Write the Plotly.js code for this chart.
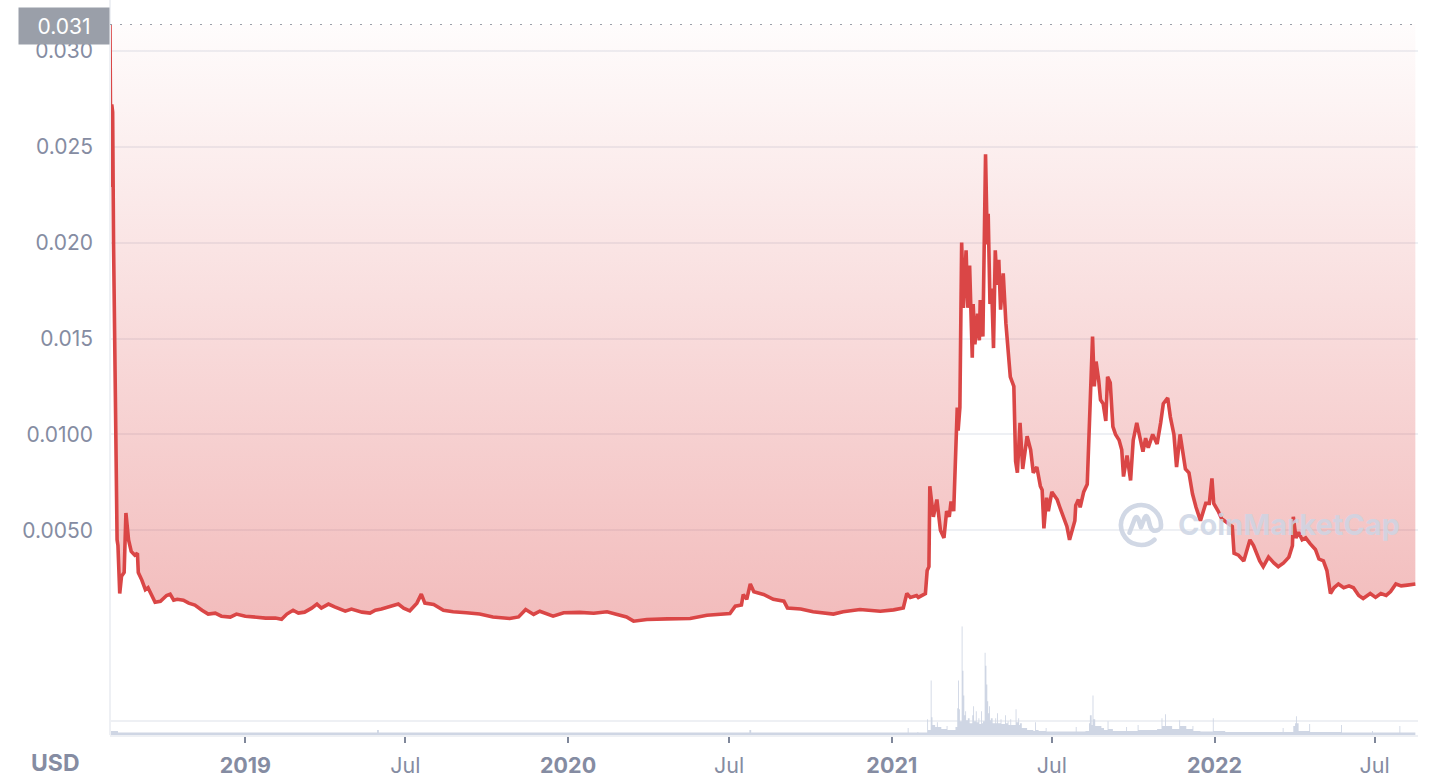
<!DOCTYPE html>
<html>
<head>
<meta charset="utf-8">
<script src="https://cdn.plot.ly/plotly-3.0.1.min.js"></script>
<style>
  html, body { margin: 0; padding: 0; background: #ffffff; }
  #chart { width: 1440px; height: 778px; }
</style>
</head>
<body>
<div id="chart"></div>
<script>
// ---------------- DATA ----------------
const priceDates = [
  '2018-08-01','2018-08-02','2018-08-03','2018-08-04','2018-08-05','2018-08-06','2018-08-07','2018-08-08','2018-08-09','2018-08-10',
  '2018-08-12','2018-08-14','2018-08-17','2018-08-19','2018-08-22','2018-08-25','2018-08-29','2018-09-01','2018-09-02','2018-09-06',
  '2018-09-10','2018-09-13','2018-09-17','2018-09-21','2018-09-27','2018-10-01','2018-10-04','2018-10-08','2018-10-12','2018-10-16',
  '2018-10-23','2018-10-29','2018-11-05','2018-11-13','2018-11-20','2018-11-28','2018-12-05','2018-12-15','2018-12-22','2019-01-01',
  '2019-01-12','2019-01-24','2019-02-04','2019-02-11','2019-02-17','2019-02-24','2019-03-02','2019-03-09','2019-03-17','2019-03-23',
  '2019-03-28','2019-04-05','2019-04-12','2019-04-24','2019-05-01','2019-05-13','2019-05-22','2019-05-28','2019-06-04','2019-06-14',
  '2019-06-23','2019-06-29','2019-07-06','2019-07-14','2019-07-19','2019-07-23','2019-08-02','2019-08-13','2019-08-24','2019-09-08',
  '2019-09-23','2019-10-08','2019-10-27','2019-11-06','2019-11-14','2019-11-23','2019-11-30','2019-12-15','2019-12-27','2020-01-14',
  '2020-01-30','2020-02-14','2020-02-25','2020-03-07','2020-03-15','2020-03-30','2020-04-22','2020-05-18','2020-06-06','2020-06-21',
  '2020-07-02','2020-07-08','2020-07-15','2020-07-17','2020-07-21','2020-07-25','2020-07-29','2020-08-09','2020-08-20','2020-09-01',
  '2020-09-05','2020-09-20','2020-10-04','2020-10-27','2020-11-07','2020-11-26','2020-12-19','2021-01-03','2021-01-14','2021-01-18',
  '2021-01-22','2021-01-29','2021-01-31','2021-02-08','2021-02-10','2021-02-12','2021-02-13','2021-02-17','2021-02-21','2021-02-25',
  '2021-03-01','2021-03-04','2021-03-07','2021-03-09','2021-03-12','2021-03-16','2021-03-17','2021-03-19','2021-03-21','2021-03-23',
  '2021-03-26','2021-03-28','2021-03-30','2021-04-02','2021-04-03','2021-04-05','2021-04-08','2021-04-10','2021-04-11','2021-04-14',
  '2021-04-17','2021-04-19','2021-04-20','2021-04-22','2021-04-24','2021-04-26','2021-04-28','2021-04-30','2021-05-02','2021-05-04',
  '2021-05-07','2021-05-10','2021-05-13','2021-05-15','2021-05-19','2021-05-21','2021-05-23','2021-05-26','2021-05-29','2021-06-03',
  '2021-06-07','2021-06-10','2021-06-14','2021-06-18','2021-06-20','2021-06-22','2021-06-25','2021-06-27','2021-07-01','2021-07-07',
  '2021-07-10','2021-07-14','2021-07-18','2021-07-21','2021-07-24','2021-07-27','2021-07-28','2021-07-31','2021-08-02','2021-08-06',
  '2021-08-10','2021-08-12','2021-08-14','2021-08-16','2021-08-18','2021-08-20','2021-08-23','2021-08-25','2021-08-28','2021-08-31',
  '2021-09-02','2021-09-05','2021-09-08','2021-09-11','2021-09-15','2021-09-18','2021-09-20','2021-09-24','2021-09-28','2021-10-01',
  '2021-10-05','2021-10-09','2021-10-12','2021-10-15','2021-10-18','2021-10-23','2021-10-28','2021-11-01','2021-11-04','2021-11-09',
  '2021-11-12','2021-11-16','2021-11-19','2021-11-23','2021-11-26','2021-11-29','2021-12-03','2021-12-07','2021-12-11','2021-12-16',
  '2021-12-22','2021-12-26','2021-12-29','2021-12-31','2022-01-05','2022-01-09','2022-01-15','2022-01-21','2022-01-23','2022-01-28',
  '2022-02-03','2022-02-07','2022-02-10','2022-02-14','2022-02-17','2022-02-21','2022-02-25','2022-03-03','2022-03-09','2022-03-14',
  '2022-03-20','2022-03-26','2022-03-30','2022-03-31','2022-04-03','2022-04-06','2022-04-10','2022-04-14','2022-04-19','2022-04-25',
  '2022-04-29','2022-05-04','2022-05-08','2022-05-12','2022-05-16','2022-05-21','2022-05-27','2022-06-02','2022-06-07','2022-06-13',
  '2022-06-18','2022-06-26','2022-07-02','2022-07-08','2022-07-14','2022-07-19','2022-07-25','2022-07-31','2022-08-07','2022-08-16'
];
const priceValues = [
  0.0314,0.0229,0.0272,0.0268,0.0200,0.0150,0.0110,0.0080,0.0045,0.0042,
  0.0017,0.0026,0.0028,0.0059,0.0045,0.0039,0.0037,0.0038,0.0028,0.0024,
  0.0019,0.0020,0.0016,0.00125,0.0013,0.00146,0.0016,0.00167,0.00135,0.0014,
  0.00135,0.0012,0.0011,0.00083,0.00063,0.00068,0.00052,0.00047,0.00063,0.00052,
  0.00047,0.00042,0.00042,0.00036,0.00063,0.00083,0.00068,0.00073,0.00094,0.00115,
  0.00094,0.00115,0.0010,0.00078,0.00089,0.00073,0.00068,0.00083,0.00089,0.00104,
  0.00115,0.00094,0.0008,0.0012,0.00167,0.0012,0.00113,0.00083,0.00075,0.0007,
  0.00063,0.00048,0.0004,0.00048,0.00087,0.00061,0.00078,0.00052,0.0007,0.00072,
  0.00067,0.00075,0.00061,0.00048,0.00026,0.00035,0.00038,0.0004,0.00057,0.00063,
  0.00066,0.00104,0.0011,0.00165,0.0014,0.0022,0.0018,0.00165,0.0014,0.0013,
  0.00095,0.00089,0.00075,0.00063,0.00075,0.00087,0.00078,0.00085,0.00095,0.0017,
  0.0015,0.0016,0.0015,0.0017,0.0029,0.0031,0.0073,0.0057,0.0066,0.0050,
  0.0046,0.0060,0.0057,0.0065,0.0060,0.0114,0.0102,0.0114,0.0200,0.0166,
  0.0196,0.0166,0.0188,0.0140,0.0168,0.0147,0.0163,0.0149,0.0170,0.0151,
  0.0246,0.0199,0.0215,0.0168,0.0176,0.0145,0.0196,0.0178,0.0191,0.0165,
  0.0184,0.0158,0.0144,0.0130,0.0125,0.0086,0.0080,0.0106,0.0082,0.0099,
  0.0092,0.0080,0.0083,0.0073,0.0071,0.0051,0.0067,0.0060,0.0070,0.0066,
  0.0062,0.0057,0.0052,0.0045,0.0051,0.0055,0.0063,0.0066,0.0062,0.0070,
  0.0074,0.0097,0.0118,0.0151,0.0125,0.0138,0.0128,0.0118,0.0116,0.0107,
  0.0130,0.0127,0.0104,0.0100,0.0097,0.0092,0.0078,0.0089,0.0076,0.0097,
  0.0106,0.0097,0.0091,0.0098,0.0093,0.0100,0.0095,0.0106,0.0116,0.0119,
  0.0109,0.0100,0.0083,0.0100,0.0092,0.0082,0.0080,0.0069,0.0062,0.0055,
  0.0064,0.0064,0.0077,0.0064,0.0060,0.0056,0.0054,0.0052,0.0038,0.0037,
  0.0034,0.0040,0.0045,0.0042,0.0038,0.0034,0.0031,0.0036,0.0033,0.0031,
  0.0033,0.0036,0.0042,0.0057,0.0046,0.0049,0.0045,0.0046,0.0043,0.0040,
  0.0035,0.0034,0.0029,0.0017,0.0020,0.0022,0.0020,0.0021,0.0020,0.0016,
  0.00144,0.0017,0.0015,0.0017,0.0016,0.0018,0.0022,0.0021,0.00214,0.0022
];

// Volume (relative units)
const volumeDates = [
  '2018-08-01','2018-08-10','2018-09-01','2019-05-30','2019-06-01','2020-07-24','2020-07-26','2021-01-10','2021-01-19','2021-01-20',
  '2021-01-30','2021-01-31','2021-02-10','2021-02-11','2021-02-14','2021-02-15','2021-02-16','2021-02-19','2021-02-21','2021-02-22',
  '2021-02-26','2021-03-04','2021-03-05','2021-03-10','2021-03-14','2021-03-16','2021-03-17','2021-03-18','2021-03-19','2021-03-21',
  '2021-03-22','2021-03-23','2021-03-24','2021-03-25','2021-03-26','2021-03-28','2021-03-30','2021-04-02','2021-04-03','2021-04-04',
  '2021-04-06','2021-04-07','2021-04-09','2021-04-10','2021-04-12','2021-04-13','2021-04-14','2021-04-16','2021-04-17','2021-04-18',
  '2021-04-19','2021-04-20','2021-04-21','2021-04-22','2021-04-23','2021-04-25','2021-04-28','2021-04-29','2021-04-30','2021-05-01',
  '2021-05-04','2021-05-05','2021-05-09','2021-05-10','2021-05-12','2021-05-13','2021-05-15','2021-05-16','2021-05-21','2021-05-22',
  '2021-05-24','2021-05-25','2021-05-26','2021-05-28','2021-06-01','2021-06-03','2021-06-07','2021-06-10','2021-06-12','2021-06-13',
  '2021-06-16','2021-06-24','2021-06-25','2021-07-10','2021-07-28','2021-07-29','2021-08-08','2021-08-12','2021-08-13','2021-08-15',
  '2021-08-16','2021-08-17','2021-08-18','2021-08-19','2021-08-26','2021-08-29','2021-09-02','2021-09-03','2021-09-08','2021-09-23',
  '2021-09-24','2021-10-06','2021-10-07','2021-10-20','2021-10-28','2021-11-02','2021-11-03','2021-11-06','2021-11-07','2021-11-14',
  '2021-11-22','2021-11-23','2021-11-30','2021-12-07','2021-12-08','2021-12-16','2021-12-30','2021-12-31','2022-01-13','2022-02-10',
  '2022-03-19','2022-03-20','2022-03-31','2022-04-02','2022-04-03','2022-04-04','2022-04-06','2022-04-18','2022-04-19','2022-05-24',
  '2022-05-25','2022-06-28','2022-06-29','2022-07-29','2022-07-30','2022-08-16'
];
const volumeValues = [
  4,2.5,2.5,5,2.5,5,2.5,2.5,7,2.5,
  3,2.5,16,5,55,18,10,8,13,8,
  6,9,5,5,8,27,55,26,14,110,
  65,40,20,24,15,17,12,20,29,14,
  24,13,17,11,24,12,14,83,70,51,
  34,22,29,15,17,12,17,12,22,12,
  16,11,20,12,14,10,16,10,26,13,
  17,10,12,7,7,5,5,4,13,5,
  4,7,3.5,3.5,8,3.5,4,12,20,10,
  40,16,16,9,7,5,14,6,4,8,
  4,10,5,5,6,17,9,21,9,6,
  15,9,6,9,4,3.5,17,4,3,3,
  7,3,9,12,19,12,4,11,3,10,
  2.5,4,2.5,9,2.5,2.5
];

// Axis ticks
const priceTickVals = [0, 0.005, 0.010, 0.015, 0.020, 0.025, 0.030];
const priceTickText = ['', '0.0050', '0.0100', '0.015', '0.020', '0.025', '0.030'];
const dateTickVals = ['2019-01-01','2019-07-01','2020-01-01','2020-07-01','2021-01-01','2021-07-01','2022-01-01','2022-07-01'];
const dateTickText = ['<b>2019</b>','Jul','<b>2020</b>','Jul','<b>2021</b>','Jul','<b>2022</b>','Jul'];
const maxLabel = '0.031';
const currencyLabel = 'USD';
const watermarkText = 'CoinMarketCap';

// ---------------- CHART ----------------
const priceTop = Math.max(...priceValues);
const xStart = '2018-08-01';
const xEnd = '2022-08-19';
const volDomainTop = 0.1531;
const volMax = Math.max(...volumeValues);

const gridColor = '#eef0f4';
const textGray = '#858ca2';
const lineRed = '#da4646';
const fontFamily = 'Inter, "Noto Sans", sans-serif';

// upper boundary for the fill above the price line
const topBoundary = {
  x: [priceDates[0], priceDates[priceDates.length - 1]],
  y: [priceTop, priceTop],
  type: 'scatter', mode: 'lines',
  line: { width: 0, color: 'rgba(0,0,0,0)' },
  hoverinfo: 'skip', showlegend: false,
  xaxis: 'x', yaxis: 'y'
};

const priceTrace = {
  x: priceDates, y: priceValues,
  type: 'scatter', mode: 'lines',
  line: { color: lineRed, width: 3.6, shape: 'linear' },
  fill: 'tonexty',
  fillgradient: {
    type: 'vertical',
    start: 0, stop: priceTop,
    colorscale: [[0, 'rgba(220,68,68,0.36)'], [1, 'rgba(220,68,68,0.015)']]
  },
  hoverinfo: 'skip', showlegend: false,
  xaxis: 'x', yaxis: 'y'
};

const volumeTrace = {
  x: volumeDates, y: volumeValues,
  type: 'scatter', mode: 'lines',
  line: { width: 0, shape: 'hv', color: '#cfd6e4' },
  fill: 'tozeroy', fillcolor: '#cfd6e4',
  hoverinfo: 'skip', showlegend: false,
  xaxis: 'x', yaxis: 'y2'
};

const logoSvg = "<svg xmlns='http://www.w3.org/2000/svg' viewBox='0 0 50 50'>" +
  "<g fill='none' stroke='#cfd6e4' stroke-width='4.6' stroke-linecap='round' stroke-linejoin='round'>" +
  "<path d='M38.5 40.5 A20 20 0 1 1 44.8 28.5'/>" +
  "<path d='M13.5 33.5 L18.8 19.5 Q20.5 15.8 22.2 19.5 L25 28 L28.6 18.5 Q30.3 15 32 18.8 L34.3 27.5 Q36.5 33.5 42.5 30.5'/>" +
  "</g></svg>";

const layout = {
  width: 1440, height: 778,
  margin: { l: 110, r: 22, t: 24, b: 43, pad: 0 },
  paper_bgcolor: '#ffffff', plot_bgcolor: '#ffffff',
  font: { family: fontFamily, size: 21, color: textGray },
  showlegend: false,
  hovermode: false,
  xaxis: {
    type: 'date', range: [xStart, xEnd], anchor: 'y2',
    showgrid: false, zeroline: false,
    showline: true, linecolor: gridColor, linewidth: 2,
    tickmode: 'array', tickvals: dateTickVals, ticktext: dateTickText,
    ticks: 'outside', ticklen: 6, tickwidth: 2, tickcolor: '#7f879a',
    ticklabelstandoff: 4,
    tickfont: { family: fontFamily, size: 21.5, color: textGray }
  },
  yaxis: {
    domain: [volDomainTop, 1], range: [0, priceTop],
    tickmode: 'array', tickvals: priceTickVals, ticktext: priceTickText,
    showgrid: true, gridcolor: gridColor, gridwidth: 2,
    zeroline: false, showline: false, ticks: '',
    ticklabelstandoff: 16,
    tickfont: { family: fontFamily, size: 21, color: textGray }
  },
  yaxis2: {
    domain: [0, volDomainTop], range: [0, volMax],
    tickmode: 'array', tickvals: [14.5], showticklabels: false,
    showgrid: true, gridcolor: gridColor, gridwidth: 2,
    zeroline: false, showline: false, ticks: ''
  },
  shapes: [
    { type: 'line', xref: 'paper', yref: 'paper', x0: 0, x1: 0, y0: 0, y1: 1.04,
      line: { color: gridColor, width: 2 }, layer: 'above' },
    { type: 'line', xref: 'paper', yref: 'y', x0: 0, x1: 1, y0: priceTop, y1: priceTop,
      line: { color: '#9a9fa9', width: 2, dash: '2px,8px' }, layer: 'above' }
  ],
  annotations: [
    { xref: 'paper', yref: 'y', x: 0, y: priceTop, xanchor: 'right', yanchor: 'middle', yshift: -2,
      text: maxLabel, showarrow: false, bgcolor: '#9a9fa9', width: 90, height: 36, borderpad: 0,
      align: 'center', valign: 'middle',
      font: { family: fontFamily, size: 21, color: '#ffffff' } },
    { xref: 'paper', yref: 'paper', x: -0.042, y: -0.0393, xanchor: 'center', yanchor: 'middle',
      text: '<b>' + currencyLabel + '</b>', showarrow: false,
      font: { family: fontFamily, size: 23, color: textGray } },
    { xref: 'paper', yref: 'paper', x: 0.9014, y: 0.2963, xanchor: 'center', yanchor: 'middle',
      text: '<b>' + watermarkText + '</b>', showarrow: false,
      font: { family: fontFamily, size: 29, color: 'rgba(205,213,228,0.85)' } }
  ],
  images: [
    { source: 'data:image/svg+xml;charset=utf-8,' + encodeURIComponent(logoSvg),
      xref: 'paper', yref: 'paper', x: 0.7691, y: 0.3315, sizex: 0.03823, sizey: 0.0702,
      xanchor: 'left', yanchor: 'top', sizing: 'stretch', layer: 'above', opacity: 0.95 }
  ]
};

Plotly.newPlot('chart', [topBoundary, priceTrace, volumeTrace], layout, { displayModeBar: false, staticPlot: true });
</script>
</body>
</html>
